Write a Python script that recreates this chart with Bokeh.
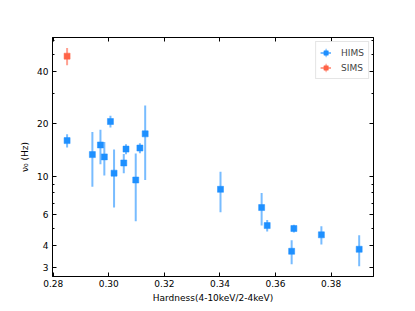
from bokeh.plotting import figure
from bokeh.models import (ColumnDataSource, FixedTicker, LinearAxis, LogAxis,
                          PrintfTickFormatter, Legend, LegendItem, Range1d,
                          CustomLabelingPolicy)
from bokeh.embed import file_html
from bokeh.resources import INLINE

# HIMS data
hims_x = [0.2850, 0.2941, 0.2970, 0.2984, 0.3006, 0.3019, 0.3054, 0.3062, 0.3097,
          0.3112, 0.3131, 0.3402, 0.3550, 0.3570, 0.3666, 0.3658, 0.3765, 0.3901]
hims_y = [16.0, 13.3, 15.1, 12.9, 20.6, 10.4, 11.9, 14.3, 9.5,
          14.5, 17.5, 8.4, 6.6, 5.2, 5.0, 3.7, 4.6, 3.8]
hims_err = [1.4, 4.6, 3.4, 2.8, 1.6, 3.8, 1.5, 0.95, 4.0,
            0.95, 8.0, 2.2, 1.4, 0.4, 0.25, 0.58, 0.55, 0.77]
# SIMS data
sims_x = [0.2850]
sims_y = [48.9]
sims_err = [5.5]

x_ticks = [0.28, 0.30, 0.32, 0.34, 0.36, 0.38]
y_ticks = [3, 4, 6, 10, 20, 40]
y_minor = [3, 4, 5, 6, 7, 8, 9, 20, 30, 40, 50, 60]

HC = "#1E90FF"
SC = "#FF6347"
FONT = "DejaVu Sans"
NAN = float("nan")

def src(xs, ys, es):
    return ColumnDataSource(dict(x=xs, y=ys, lo=[a - b for a, b in zip(ys, es)],
                                 hi=[a + b for a, b in zip(ys, es)]))

hs = src(hims_x, hims_y, hims_err)
ss = src(sims_x, sims_y, sims_err)

p = figure(width=415, height=311, frame_width=321, frame_height=239,
           y_axis_type="log", output_backend="svg", toolbar_location=None,
           x_range=Range1d(0.27975, 0.39525), y_range=Range1d(2.65, 62.6),
           min_border_left=52, min_border_top=37, min_border_right=42,
           min_border_bottom=30)
p.grid.visible = False
p.outline_line_color = "black"
p.outline_line_width = 1
p.background_fill_color = "white"
p.border_fill_color = "white"

# error bars
h_err = p.segment(x0="x", y0="lo", x1="x", y1="hi", source=hs, line_color=HC,
                  line_alpha=0.6, line_width=2)
s_err = p.segment(x0="x", y0="lo", x1="x", y1="hi", source=ss, line_color=SC,
                  line_alpha=0.6, line_width=2)
h_pt = p.scatter(x="x", y="y", source=hs, marker="square", size=6,
                 fill_color=HC, line_color=HC, line_alpha=0.5)
s_pt = p.scatter(x="x", y="y", source=ss, marker="square", size=6,
                 fill_color=SC, line_color=SC, line_alpha=0.5)

# legend-only vertical bars (not drawn in the plot area)
h_v = p.ellipse(x=[NAN], y=[NAN], width=2, height=10, width_units="screen",
                height_units="screen", fill_color=HC, fill_alpha=0.6,
                line_color=None)
s_v = p.ellipse(x=[NAN], y=[NAN], width=2, height=10, width_units="screen",
                height_units="screen", fill_color=SC, fill_alpha=0.6,
                line_color=None)

legend = Legend(items=[LegendItem(label="HIMS", renderers=[h_err, h_v, h_pt]),
                       LegendItem(label="SIMS", renderers=[s_err, s_v, s_pt])],
                location="top_right", label_text_font=FONT,
                label_text_font_size="9px", glyph_width=11, glyph_height=13,
                label_standoff=10, padding=4, spacing=2, margin=4,
                border_line_color="#cccccc", border_line_width=1,
                background_fill_alpha=0.8, label_height=12)
p.add_layout(legend, "center")

def style(ax):
    ax.major_tick_in = 4
    ax.major_tick_out = 0
    ax.minor_tick_in = 2
    ax.minor_tick_out = 0
    ax.axis_line_color = "black"
    ax.major_tick_line_color = "black"
    ax.minor_tick_line_color = "black"
    ax.major_label_text_font = FONT
    ax.major_label_text_font_size = "9px"
    ax.major_label_text_color = "black"
    ax.axis_label_text_font = FONT
    ax.axis_label_text_font_size = "9px"
    ax.axis_label_text_font_style = "normal"
    ax.axis_label_text_color = "black"

xt = FixedTicker(ticks=x_ticks)
yt = FixedTicker(ticks=y_ticks, minor_ticks=y_minor)

xa = p.xaxis[0]
xa.ticker = xt
xa.formatter = PrintfTickFormatter(format="%.2f")
xa.axis_label = "Hardness(4-10keV/2-4keV)"
style(xa)
xa.major_label_standoff = 3
xa.axis_label_standoff = 3

ya = p.yaxis[0]
ya.ticker = yt
ya.formatter = PrintfTickFormatter(format="%d")
ya.axis_label = "ν₀ (Hz)"
style(ya)
ya.major_label_standoff = 4
ya.axis_label_standoff = 4

top = LinearAxis(ticker=xt)
style(top)
top.major_label_policy = CustomLabelingPolicy(code="return new Set()")
top.major_label_standoff = 0
p.add_layout(top, "above")

right = LogAxis(ticker=yt)
style(right)
right.major_label_policy = CustomLabelingPolicy(code="return new Set()")
right.major_label_standoff = 0
p.add_layout(right, "right")

open("out.html", "w").write(file_html(p, INLINE))
